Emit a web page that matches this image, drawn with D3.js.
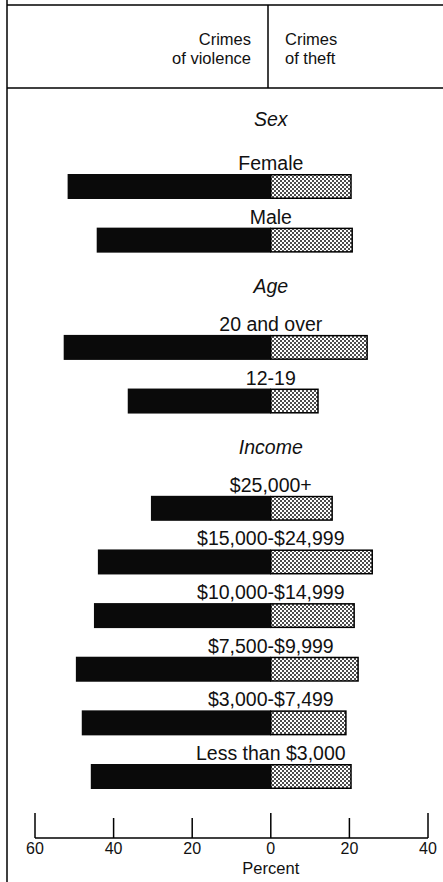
<!DOCTYPE html>
<html><head><meta charset="utf-8">
<script src="https://cdn.jsdelivr.net/npm/d3@7"></script>
<style>html,body{margin:0;padding:0;background:#fff;}svg{display:block;}</style>
</head><body>
<script>
// ---- data ----
const groups = ["Sex", "Age", "Income"];
const categories = ["Female", "Male", "20 and over", "12-19", "$25,000+", "$15,000-$24,999", "$10,000-$14,999", "$7,500-$9,999", "$3,000-$7,499", "Less than $3,000"];
const categoryGroup = ["Sex", "Sex", "Age", "Age", "Income", "Income", "Income", "Income", "Income", "Income"];
const violence = [51.7, 44.3, 52.7, 36.4, 30.5, 44.0, 45.0, 49.6, 48.1, 45.8];
const theft = [20.6, 20.9, 24.7, 12.2, 15.8, 26.0, 21.4, 22.4, 19.3, 20.6];
const tickValues = [-60, -40, -20, 0, 20, 40];
const headerLeft = ["Crimes", "of violence"];
const headerRight = ["Crimes", "of theft"];
const axisTitle = "Percent";

const W = 443, H = 882;
const font = "'Liberation Sans', Arial, Helvetica, sans-serif";
const svg = d3.select("body").append("svg").attr("width", W).attr("height", H);

const defs = svg.append("defs");
const pat = defs.append("pattern").attr("id", "stipple").attr("patternUnits", "userSpaceOnUse")
  .attr("width", 4).attr("height", 4);
pat.append("rect").attr("width", 4).attr("height", 4).attr("fill", "#fff");
pat.append("circle").attr("cx", 1).attr("cy", 1).attr("r", 1.0).attr("fill", "#111");
pat.append("circle").attr("cx", 3).attr("cy", 3).attr("r", 1.0).attr("fill", "#111");

// scales
const x = d3.scaleLinear().domain([-60, 40]).range([35, 428]);
const rows = [];
groups.forEach(g => {
  rows.push({type: "header", label: g});
  categories.forEach((c, i) => { if (categoryGroup[i] === g) rows.push({type: "bar", label: c, v: violence[i], t: theft[i]}); });
});
rows.forEach((r, i) => r.slot = i);
const y = d3.scaleLinear().domain([1, rows.length - 1]).range([174, 764]);
const barH = 25;

// frame
svg.append("line").attr("x1", 7).attr("x2", 7).attr("y1", 0).attr("y2", H).attr("stroke", "#000").attr("stroke-width", 1.5);
svg.append("line").attr("x1", 7).attr("x2", W).attr("y1", 5).attr("y2", 5).attr("stroke", "#000").attr("stroke-width", 1.5);
svg.append("line").attr("x1", 7).attr("x2", W).attr("y1", 88).attr("y2", 88).attr("stroke", "#000").attr("stroke-width", 1.5);
svg.append("line").attr("x1", 268).attr("x2", 268).attr("y1", 5).attr("y2", 88).attr("stroke", "#000").attr("stroke-width", 1.5);

const hl = svg.append("text").attr("font-family", font).attr("font-size", 16.5).attr("text-anchor", "end").attr("fill", "#111");
headerLeft.forEach((s, i) => hl.append("tspan").attr("x", 251).attr("y", 45 + i * 19).text(s));
const hr = svg.append("text").attr("font-family", font).attr("font-size", 16.5).attr("text-anchor", "start").attr("fill", "#111");
headerRight.forEach((s, i) => hr.append("tspan").attr("x", 285).attr("y", 45 + i * 19).text(s));

// group headers
svg.selectAll("text.grp").data(rows.filter(r => r.type === "header")).join("text")
  .attr("class", "grp").attr("x", x(0)).attr("y", d => y(d.slot) + (d.slot === 0 ? 6 : 12))
  .attr("text-anchor", "middle").attr("font-family", font).attr("font-style", "italic")
  .attr("font-size", 19.5).attr("fill", "#111").text(d => d.label);

const bars = rows.filter(r => r.type === "bar");
svg.selectAll("text.cat").data(bars).join("text")
  .attr("class", "cat").attr("x", x(0)).attr("y", d => y(d.slot) - 4)
  .attr("text-anchor", "middle").attr("font-family", font)
  .attr("font-size", 19.5).attr("fill", "#111").text(d => d.label);

svg.selectAll("rect.vio").data(bars).join("rect")
  .attr("class", "vio").attr("x", d => x(-d.v)).attr("y", d => y(d.slot))
  .attr("width", d => x(0) - x(-d.v)).attr("height", barH).attr("fill", "#0a0a0a");

svg.selectAll("rect.thf").data(bars).join("rect")
  .attr("class", "thf").attr("x", x(0)).attr("y", d => y(d.slot) + 0.75)
  .attr("width", d => x(d.t) - x(0) - 0.75).attr("height", barH - 1.5)
  .attr("fill", "url(#stipple)").attr("stroke", "#000").attr("stroke-width", 1.5);

// axis
const axisY = 838;
svg.append("line").attr("x1", x(-60)).attr("x2", x(40)).attr("y1", axisY).attr("y2", axisY)
  .attr("stroke", "#000").attr("stroke-width", 1.5);
svg.selectAll("line.tick").data(tickValues).join("line").attr("class", "tick")
  .attr("x1", d => x(d)).attr("x2", d => x(d))
  .attr("y1", d => (d === -60 || d === 0 || d === 40) ? axisY - 25 : axisY - 20)
  .attr("y2", axisY).attr("stroke", "#000").attr("stroke-width", 1.5);
svg.selectAll("text.tl").data(tickValues).join("text").attr("class", "tl")
  .attr("x", d => x(d)).attr("y", 854).attr("text-anchor", "middle")
  .attr("font-family", font).attr("font-size", 16).attr("fill", "#111")
  .text(d => Math.abs(d));
svg.append("text").attr("x", x(0)).attr("y", 874).attr("text-anchor", "middle")
  .attr("font-family", font).attr("font-size", 16.5).attr("fill", "#111").text(axisTitle);
</script>
</body></html>
